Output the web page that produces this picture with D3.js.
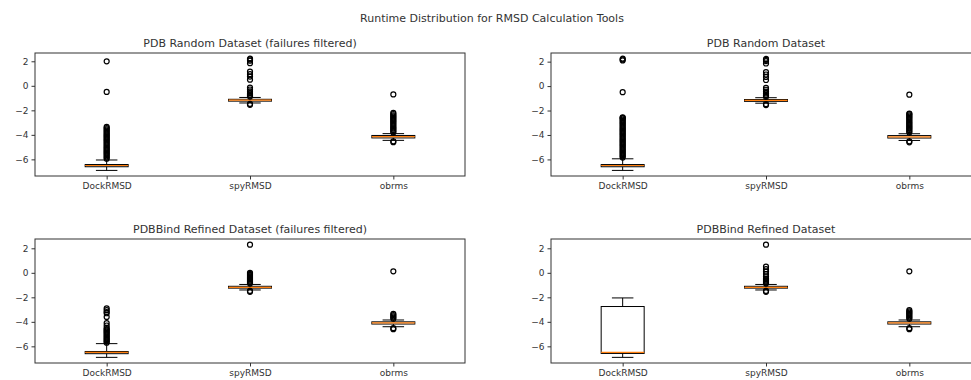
<!DOCTYPE html>
<head>
  <meta charset="utf-8" />
  <title>Runtime Distribution for RMSD Calculation Tools</title>
  <style>
    body { margin: 0; background: #fff; }
    text { font-family: "DejaVu Sans", sans-serif; fill: #333; }
  </style>
</head>
<body>
  <script src="https://cdn.jsdelivr.net/npm/d3@7"></script>
  <script>
    // values (log runtime)
    var tools = ["DockRMSD", "spyRMSD", "obrms"];
    var panelTitles = [
      "PDB Random Dataset (failures filtered)",
      "PDB Random Dataset",
      "PDBBind Refined Dataset (failures filtered)",
      "PDBBind Refined Dataset"
    ];
    var yTicks = [2, 0, -2, -4, -6];

    // one row per panel, one column per tool
    var medians = [[-6.5, -1.17, -4.15], [-6.5, -1.17, -4.15], [-6.5, -1.18, -4.08], [-6.5, -1.18, -4.08]];
    var q1s = [[-6.6, -1.25, -4.25], [-6.6, -1.25, -4.25], [-6.6, -1.25, -4.18], [-6.58, -1.25, -4.18]];
    var q3s = [[-6.42, -1.1, -4.05], [-6.42, -1.1, -4.05], [-6.42, -1.1, -4.0], [-2.75, -1.1, -4.0]];
    var whiskerLo = [[-6.9, -1.4, -4.45], [-6.9, -1.4, -4.45], [-6.9, -1.4, -4.4], [-6.9, -1.4, -4.4]];
    var whiskerHi = [[-6.05, -0.95, -3.9], [-5.95, -0.95, -3.9], [-5.78, -0.95, -3.85], [-2.05, -0.95, -3.85]];

    var outliers = [
      [
        [-5.95, -5.85, -5.75, -5.65, -5.55, -5.45, -5.35, -5.25, -5.15, -5.05, -4.95, -4.85, -4.75, -4.65,
         -4.55, -4.45, -4.35, -4.25, -4.15, -4.05, -3.95, -3.85, -3.75, -3.65, -3.55, -3.45, -3.35, -0.5, 2.0],
        [-1.55, -1.48, -0.88, -0.8, -0.72, -0.6, -0.45, -0.3, -0.15, 0.5, 0.75, 0.95, 1.15, 1.85, 2.05, 2.15, 2.22],
        [-4.6, -4.52, -3.8, -3.7, -3.6, -3.5, -3.4, -3.3, -3.2, -3.1, -3.0, -2.9, -2.8, -2.7, -2.6, -2.5,
         -2.4, -2.3, -2.2, -0.7]
      ],
      [
        [-5.85, -5.75, -5.65, -5.55, -5.45, -5.35, -5.25, -5.15, -5.05, -4.95, -4.85, -4.75, -4.65, -4.55,
         -4.45, -4.35, -4.25, -4.15, -4.05, -3.95, -3.85, -3.75, -3.65, -3.55, -3.45, -3.35, -3.25, -3.15,
         -3.05, -2.95, -2.85, -2.75, -2.65, -2.6, -2.55, -0.5, 2.1, 2.18, 2.25],
        [-1.55, -1.48, -0.88, -0.8, -0.72, -0.6, -0.45, -0.3, -0.15, 0.5, 0.75, 0.95, 1.15, 1.85, 2.05, 2.15, 2.22],
        [-4.6, -4.52, -3.8, -3.7, -3.6, -3.5, -3.4, -3.3, -3.2, -3.1, -3.0, -2.9, -2.8, -2.7, -2.6, -2.5,
         -2.4, -2.3, -2.25, -0.7]
      ],
      [
        [-5.7, -5.6, -5.5, -5.4, -5.3, -5.2, -5.1, -5.0, -4.9, -4.8, -4.7, -4.6, -4.5, -4.3, -4.1, -3.6,
         -3.3, -3.2, -3.05, -2.9],
        [-1.55, -1.48, -0.88, -0.8, -0.72, -0.64, -0.56, -0.48, -0.4, -0.32, -0.24, -0.16, -0.08, 0.0, 2.3],
        [-4.6, -4.52, -3.75, -3.65, -3.55, -3.45, -3.35, 0.12]
      ],
      [
        [],
        [-1.55, -1.48, -0.88, -0.8, -0.72, -0.64, -0.56, -0.48, -0.3, -0.1, 0.1, 0.3, 0.5, 2.3],
        [-4.6, -4.52, -3.75, -3.65, -3.55, -3.45, -3.35, -3.25, -3.15, -3.05, 0.12]
      ]
    ];

    var width = 971, height = 380;
    var axW = 430;
    var panels = [
      { x: 35, y: 53, h: 123 },
      { x: 551, y: 53, h: 123 },
      { x: 35, y: 239, h: 124 },
      { x: 551, y: 239, h: 124 }
    ];

    var svg = d3.select("body").append("svg")
      .attr("width", width)
      .attr("height", height);

    svg.append("text")
      .attr("x", 492)
      .attr("y", 22)
      .attr("text-anchor", "middle")
      .style("font-size", "11px")
      .text("Runtime Distribution for RMSD Calculation Tools");

    panels.forEach(function (p, i) {
      var g = svg.append("g").attr("transform", "translate(" + p.x + "," + p.y + ")");

      // matplotlib-style autoscale: data extent + 5% margin
      var all = [];
      for (var j = 0; j < tools.length; j++) {
        all = all.concat(outliers[i][j], [whiskerLo[i][j], whiskerHi[i][j]]);
      }
      var ext = d3.extent(all);
      var pad = (ext[1] - ext[0]) * 0.05;

      var y = d3.scaleLinear().domain([ext[0] - pad, ext[1] + pad]).range([p.h, 0]);
      var x = d3.scalePoint().domain(tools).range([0, axW]).padding(0.5);
      var boxW = x.step() * 0.3;

      var yAxis = g.append("g")
        .call(d3.axisLeft(y).tickValues(yTicks).tickSize(3.5).tickPadding(3));
      var xAxis = g.append("g")
        .attr("transform", "translate(0," + p.h + ")")
        .call(d3.axisBottom(x).tickSize(3.5).tickPadding(3));
      [yAxis, xAxis].forEach(function (a) {
        a.select(".domain").remove();
        a.selectAll("line").attr("stroke", "#333");
        a.selectAll("text").style("font-size", "9px").attr("fill", "#333");
      });

      tools.forEach(function (t, j) {
        var cx = x(t);
        var bg = g.append("g");
        // whiskers
        bg.append("line")
          .attr("x1", cx).attr("x2", cx)
          .attr("y1", y(q3s[i][j])).attr("y2", y(whiskerHi[i][j]))
          .attr("stroke", "#000");
        bg.append("line")
          .attr("x1", cx).attr("x2", cx)
          .attr("y1", y(q1s[i][j])).attr("y2", y(whiskerLo[i][j]))
          .attr("stroke", "#000");
        // caps
        [whiskerLo[i][j], whiskerHi[i][j]].forEach(function (v) {
          bg.append("line")
            .attr("x1", cx - boxW / 4).attr("x2", cx + boxW / 4)
            .attr("y1", y(v)).attr("y2", y(v))
            .attr("stroke", "#000");
        });
        // box
        bg.append("rect")
          .attr("x", cx - boxW / 2)
          .attr("y", y(q3s[i][j]))
          .attr("width", boxW)
          .attr("height", Math.max(0.5, y(q1s[i][j]) - y(q3s[i][j])))
          .attr("fill", "none")
          .attr("stroke", "#000");
        // median
        bg.append("line")
          .attr("x1", cx - boxW / 2).attr("x2", cx + boxW / 2)
          .attr("y1", y(medians[i][j])).attr("y2", y(medians[i][j]))
          .attr("stroke", "#ff7f0e")
          .attr("stroke-width", 1.2);
        // fliers
        bg.selectAll("circle")
          .data(outliers[i][j])
          .enter()
          .append("circle")
          .attr("cx", cx)
          .attr("cy", function (d) { return y(d); })
          .attr("r", 2.5)
          .attr("fill", "none")
          .attr("stroke", "#000")
          .attr("stroke-width", 1.2);
      });

      // frame
      g.append("rect")
        .attr("width", axW)
        .attr("height", p.h)
        .attr("fill", "none")
        .attr("stroke", "#333");

      g.append("text")
        .attr("x", axW / 2)
        .attr("y", -6)
        .attr("text-anchor", "middle")
        .style("font-size", "11px")
        .text(panelTitles[i]);
    });
  </script>
</body>
